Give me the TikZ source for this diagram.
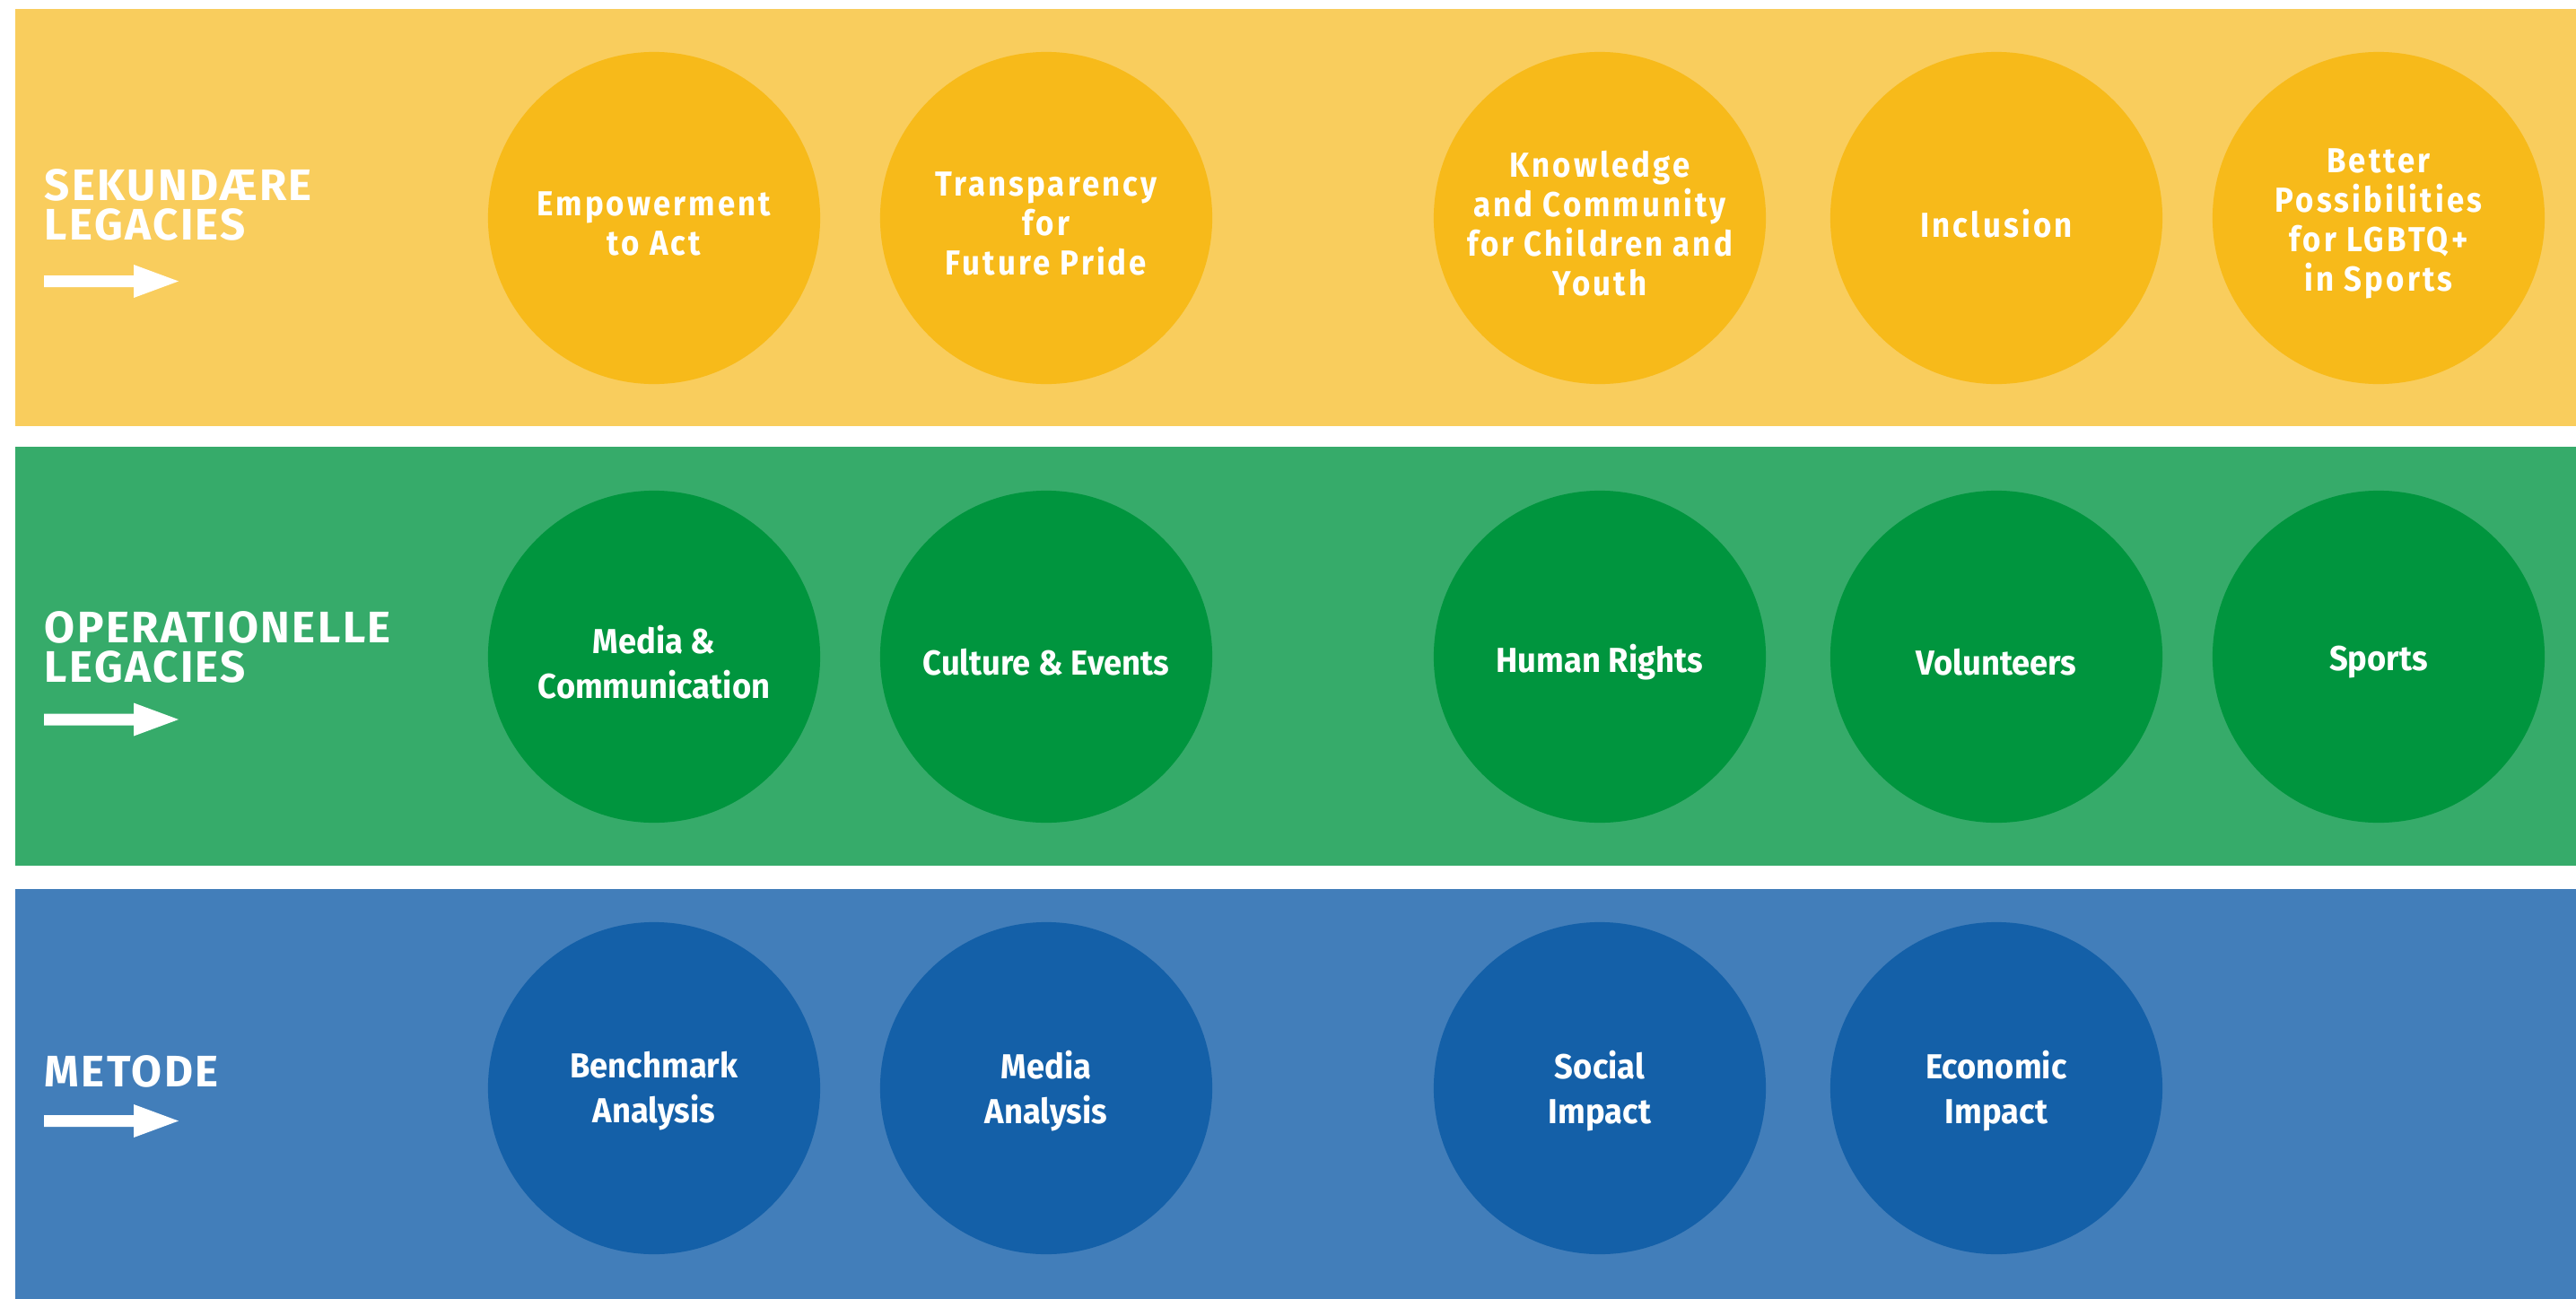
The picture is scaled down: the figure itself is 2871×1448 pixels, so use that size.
\documentclass[tikz,border=0pt]{standalone}
\usepackage{fontspec}
\usepackage{xcolor}
\setmainfont{Fira Sans}[FakeStretch=0.9]
\newfontfamily\legfont{Fira Sans}[FakeStretch=0.94]
\newfontfamily\sekfont{Fira Sans}[FakeStretch=0.9,LetterSpace=8]
\newfontfamily\headfont{Fira Sans}[LetterSpace=5]

\definecolor{sekband}{HTML}{F9CD5D}
\definecolor{sekfill}{HTML}{F7BA1A}
\definecolor{opband}{HTML}{36AB6A}
\definecolor{opfill}{HTML}{00953E}
\definecolor{metband}{HTML}{427EBA}
\definecolor{metfill}{HTML}{1460A8}

\tikzset{
  legnode/.style={circle, draw=none, minimum size=3.7cm, inner sep=0pt},
  legtext/.style={inner sep=0pt, text=white, align=center},
  seknode/.style={legnode, fill=sekfill,
    label={[legtext, yshift=-0.06cm,
      font=\sekfont\bfseries\fontsize{11}{12.5}\selectfont]center:{#1}}},
  opnode/.style={legnode, fill=opfill,
    label={[legtext, yshift=-0.06cm,
      font=\legfont\bfseries\fontsize{11}{14.2}\selectfont]center:{#1}}},
  metnode/.style={legnode, fill=metfill,
    label={[legtext, yshift=-0.03cm,
      font=\legfont\bfseries\fontsize{11}{14.4}\selectfont]center:{#1}}},
  headlabel/.style={anchor=north west, inner sep=0pt, text=white, align=left,
    font=\headfont\bfseries\fontsize{14}{12.6}\selectfont}
}

\begin{document}
\begin{tikzpicture}[x=0.01cm,y=-0.01cm]
    \useasboundingbox[fill=white] (0,0) rectangle (2871,1448);

    % bands
    \fill[sekband] (17,10) rectangle (2871,475);
    \fill[opband] (17,498) rectangle (2871,965);
    \fill[metband] (17,991) rectangle (2871,1448);

    % row labels
    \node[headlabel] (sek) at (49,188) {SEKUNDÆRE\\LEGACIES};
    \node[headlabel] (op) at (49,681) {OPERATIONELLE\\LEGACIES};
    \node[headlabel] (met) at (49,1176) {METODE};
    \foreach \y in {313.5,802,1249.5}
      \fill[white] (49,\y-6.5) -- (149,\y-6.5) -- (149,\y-18.5) -- (199,\y)
        -- (149,\y+18.5) -- (149,\y+6.5) -- (49,\y+6.5) -- cycle;

    % sekundaere legacies
    \node[seknode={Empowerment\\to Act}] (empower) at (729,243) {};
    \node[seknode={Transparency\\for\\Future Pride}] (transp) at (1166,243) {};
    \node[seknode={Knowledge\\and Community\\for Children and\\Youth}] (know) at (1783,243) {};
    \node[seknode={Inclusion}] (incl) at (2225,243) {};
    \node[seknode={Better\\Possibilities\\for LGBTQ+\\in Sports}] (lgbt) at (2651,243) {};

    % operationelle legacies
    \node[opnode={Media \&\\Communication}] (media) at (729,732) {};
    \node[opnode={Culture \& Events}] (culture) at (1166,732) {};
    \node[opnode={Human Rights}] (rights) at (1783,732) {};
    \node[opnode={Volunteers}] (volunt) at (2225,732) {};
    \node[opnode={Sports}] (sports) at (2651,732) {};

    % metode
    \node[metnode={Benchmark\\Analysis}] (bench) at (729,1213) {};
    \node[metnode={Media\\Analysis}] (medana) at (1166,1213) {};
    \node[metnode={Social\\Impact}] (social) at (1783,1213) {};
    \node[metnode={Economic\\Impact}] (econ) at (2225,1213) {};
\end{tikzpicture}
\end{document}
